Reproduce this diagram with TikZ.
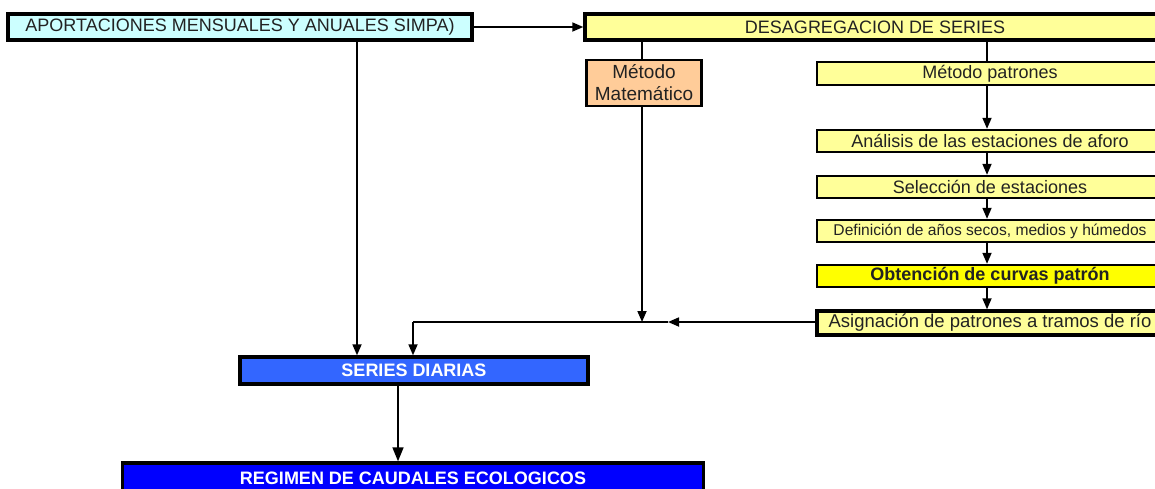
\documentclass[tikz,border=0pt]{standalone}
\usepackage{fontspec}
\setmainfont{Liberation Sans}
\usetikzlibrary{arrows.meta}
\definecolor{cyanfill}{HTML}{CCFFFF}
\definecolor{yelfill}{HTML}{FFFF99}
\definecolor{yelbright}{HTML}{FFFF00}
\definecolor{peach}{HTML}{FFCC99}
\definecolor{blueA}{HTML}{3366FF}
\definecolor{blueB}{HTML}{0000FF}
\definecolor{txt}{HTML}{222222}
\begin{document}
\begin{tikzpicture}[x=1pt,y=-1pt,
  box/.style={draw=black, rectangle, inner sep=0pt, text=txt, align=center,
    font=\fontsize{18}{21}\selectfont},
  thickbox/.style={box, line width=3.4pt},
  thinbox/.style={box, line width=2.4pt},
  conn/.style={line width=1.7pt, black},
  arr/.style={conn, -{Triangle[length=11pt,width=9pt]}}]
\useasboundingbox (0,0) rectangle (1155,488);
\clip (0,0) rectangle (1155,488);
\fill[white] (0,0) rectangle (1155,488);
% nodes
\node[thickbox, fill=cyanfill, minimum width=464, minimum height=26] (aport) at (240,27) {APORTACIONES MENSUALES Y ANUALES SIMPA)};
\node[thickbox, fill=yelfill, minimum width=580, minimum height=26] (desag) at (875,27) {DESAGREGACION DE SERIES};
\node[thinbox, fill=peach, minimum width=115, minimum height=46, font=\fontsize{19}{22}\selectfont] (mm) at (644,83) {Método\\Matemático};
\node[thinbox, fill=yelfill, minimum width=346, minimum height=23] (pat) at (990,73.5) {Método patrones};
\node[thinbox, fill=yelfill, minimum width=346, minimum height=22] (ana) at (990,141) {Análisis de las estaciones de aforo};
\node[thinbox, fill=yelfill, minimum width=346, minimum height=22] (sel) at (990,187) {Selección de estaciones};
\node[thinbox, fill=yelfill, minimum width=346, minimum height=22, font=\fontsize{15.6}{18}\selectfont] (def) at (990,231) {Definición de años secos, medios y húmedos};
\node[thinbox, fill=yelbright, minimum width=346, minimum height=22, font=\fontsize{18}{21}\selectfont\bfseries] (obt) at (990,276) {Obtención de curvas patrón};
\node[thickbox, fill=yelfill, minimum width=346, minimum height=24, font=\fontsize{18.5}{21}\selectfont] (asi) at (990,323) {Asignación de patrones a tramos de río};
\node[thickbox, fill=blueA, minimum width=348, minimum height=27, text=white, font=\fontsize{18}{21}\selectfont\bfseries] (ser) at (414,370.5) {SERIES DIARIAS};
\node[thickbox, fill=blueB, minimum width=581, minimum height=30, text=white, font=\fontsize{18}{21}\selectfont\bfseries] (reg) at (413,478) {REGIMEN DE CAUDALES ECOLOGICOS};
% helper coordinates
\coordinate (xa) at (357,0);
\coordinate (xm) at (642,0);
\coordinate (xp) at (987,0);
\coordinate (j1) at (642,322);
\coordinate (m1) at (668,322);
\coordinate (j2) at (413,322);
\coordinate (xs) at (398,0);
% connectors
\draw[arr] (aport.east) -- (desag.west);
\draw[arr] (aport.south -| xa) -- (ser.north -| xa);
\draw[conn] (desag.south -| xm) -- (mm.north -| xm);
\draw[arr] (mm.south -| xm) -- (j1);
\draw[conn] (desag.south -| xp) -- (pat.north -| xp);
\draw[arr] (pat.south -| xp) -- (ana.north -| xp);
\draw[arr] (ana.south -| xp) -- (sel.north -| xp);
\draw[arr] (sel.south -| xp) -- (def.north -| xp);
\draw[arr] (def.south -| xp) -- (obt.north -| xp);
\draw[arr] (obt.south -| xp) -- (asi.north -| xp);
\draw[arr] (asi.west |- j1) -- (m1);
\draw[conn] (m1) -- (j2);
\draw[arr] (j2) -- (ser.north -| j2);
\draw[arr, -{Triangle[length=14pt,width=11pt]}] (ser.south -| xs) -- (reg.north -| xs);
\end{tikzpicture}
\end{document}
